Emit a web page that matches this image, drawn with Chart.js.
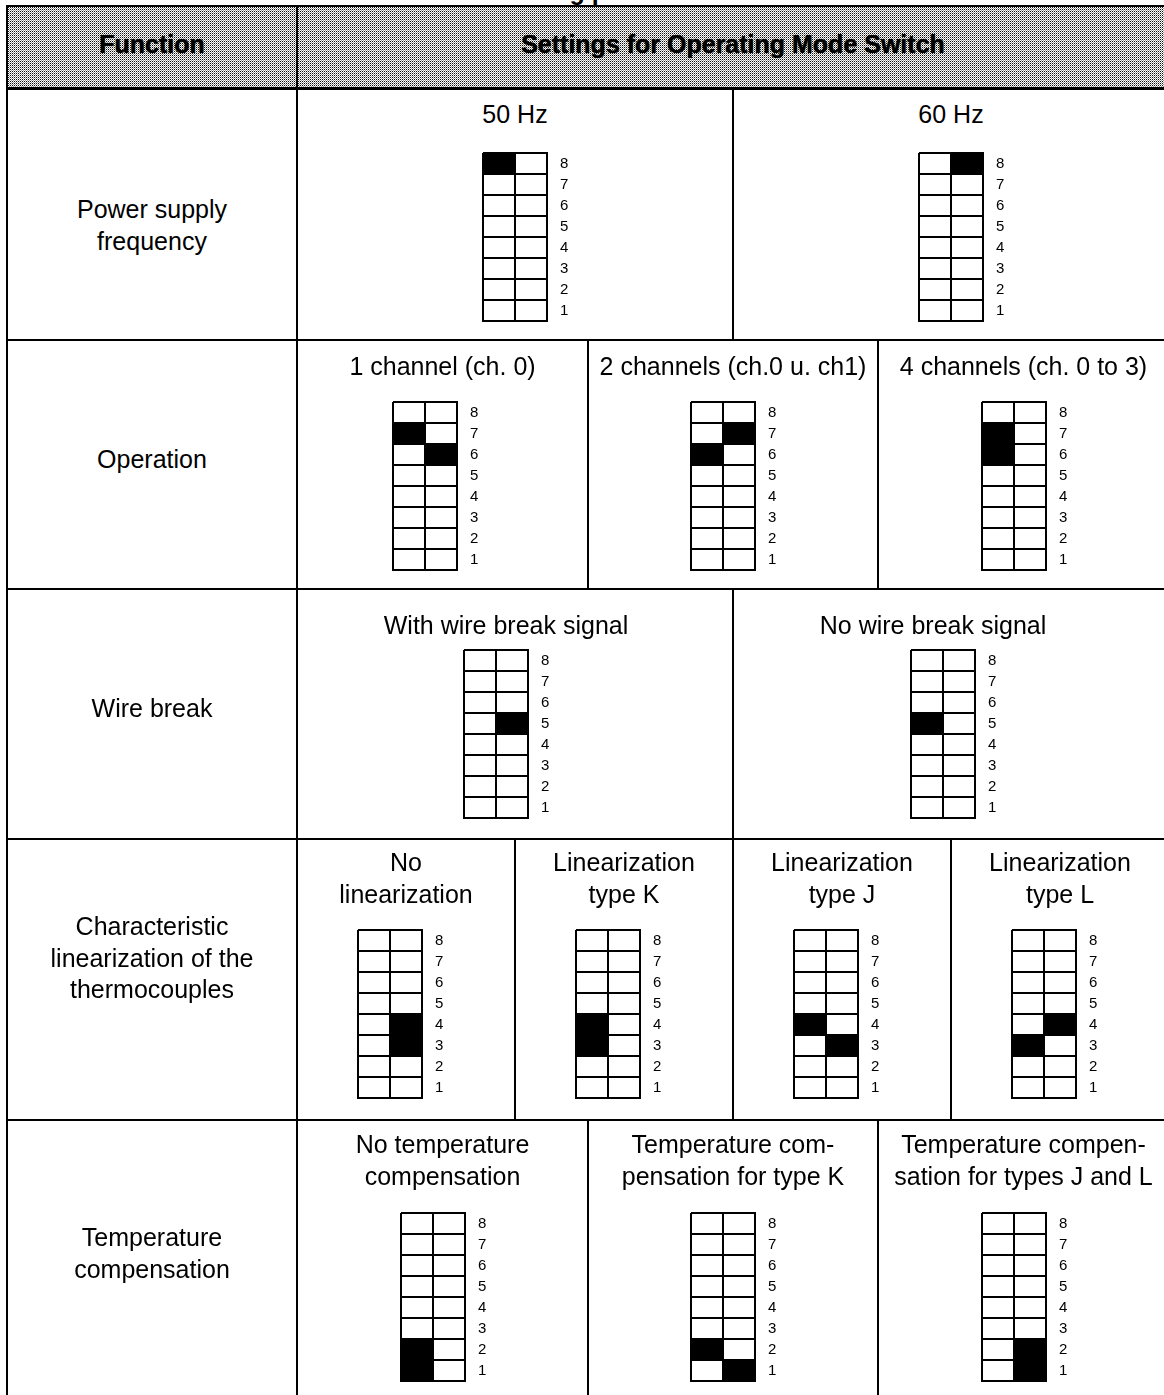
<!DOCTYPE html>
<html>
<head>
<meta charset="utf-8">
<script src="https://cdn.jsdelivr.net/npm/chart.js@4.4.0/dist/chart.umd.min.js"></script>
<style>
    body { margin: 0; width: 1164px; height: 1395px; overflow: hidden; background: #fff;
           font-family: "Liberation Sans", Arial, sans-serif; color: #000; position: relative; }
    .cell { position: absolute; border: 2px solid #000; box-sizing: border-box; }
    .txt { position: absolute; font-size: 25px; line-height: 31.5px; text-align: center; white-space: nowrap; }
    .hdr { position: absolute; font-size: 25px; font-weight: bold; text-align: center; white-space: nowrap;
           text-shadow: 0 0 1px #000; }
    .title { position: absolute; font-size: 25px; font-weight: bold; line-height: 25px; white-space: nowrap; }
    canvas { position: absolute; }
</style>
</head>
<body>
<div id="page"></div>
<script>
    // switch positions, top to bottom
    var positions = ['8', '7', '6', '5', '4', '3', '2', '1'];

    // lever side for each position: 0 = left, 1 = right, null = not marked
    var freq50Hz        = [0, null, null, null, null, null, null, null];
    var freq60Hz        = [1, null, null, null, null, null, null, null];
    var oneChannel      = [null, 0, 1, null, null, null, null, null];
    var twoChannels     = [null, 1, 0, null, null, null, null, null];
    var fourChannels    = [null, 0, 0, null, null, null, null, null];
    var withWireBreak   = [null, null, null, 1, null, null, null, null];
    var noWireBreak     = [null, null, null, 0, null, null, null, null];
    var noLinearization = [null, null, null, null, 1, 1, null, null];
    var linearTypeK     = [null, null, null, null, 0, 0, null, null];
    var linearTypeJ     = [null, null, null, null, 0, 1, null, null];
    var linearTypeL     = [null, null, null, null, 1, 0, null, null];
    var noTempComp      = [null, null, null, null, null, null, 0, 0];
    var tempCompK       = [null, null, null, null, null, null, 0, 1];
    var tempCompJL      = [null, null, null, null, null, null, 1, 1];

    var pageTitle = 'Setting possibilities';
    var headerFunction = 'Function';
    var headerSettings = 'Settings for Operating Mode Switch';

    var functionLabels = [
        ['Power supply', 'frequency'],
        ['Operation'],
        ['Wire break'],
        ['Characteristic', 'linearization of the', 'thermocouples'],
        ['Temperature', 'compensation']
    ];

    var settingTitles = [
        [['50 Hz'], ['60 Hz']],
        [['1 channel (ch. 0)'], ['2 channels (ch.0 u. ch1)'], ['4 channels (ch. 0 to 3)']],
        [['With wire break signal'], ['No wire break signal']],
        [['No', 'linearization'], ['Linearization', 'type K'], ['Linearization', 'type J'], ['Linearization', 'type L']],
        [['No temperature', 'compensation'], ['Temperature com-', 'pensation for type K'], ['Temperature compen-', 'sation for types J and L']]
    ];

    var settingStates = [
        [freq50Hz, freq60Hz],
        [oneChannel, twoChannels, fourChannels],
        [withWireBreak, noWireBreak],
        [noLinearization, linearTypeK, linearTypeJ, linearTypeL],
        [noTempComp, tempCompK, tempCompJL]
    ];

    // page layout (pixels)
    var tableLeft = 7, funcRight = 297, tableRight = 1169, headerTop = 6, headerBottom = 89;
    var rowTops = [89, 340, 589, 839, 1120, 1420];
    var funcTextTops = [194, 444, 693, 911, 1222];
    var titleTops = [99, 351, 610, 847, 1129];
    var titleShift = [[0, 0], [0, 0, 0], [-9, -18], [0, 0, 0, 0], [0, 0, 0]];
    var switchTops = [153, 402, 650, 930, 1213];
    var switchShift = [[0, 0], [-18, -10, -10], [-19, -8], [-16, -16, -16, -16], [-10, -10, -10]];
    var switchW = 64, switchH = 168;

    var page = document.getElementById('page');

    function box(x1, y1, x2, y2) {
        var d = document.createElement('div');
        d.className = 'cell';
        d.style.left = (x1 - 1) + 'px';
        d.style.top = (y1 - 1) + 'px';
        d.style.width = (x2 - x1 + 2) + 'px';
        d.style.height = (y2 - y1 + 2) + 'px';
        page.appendChild(d);
        return d;
    }

    function text(cls, lines, x1, x2, top) {
        var d = document.createElement('div');
        d.className = cls;
        d.style.left = x1 + 'px';
        d.style.width = (x2 - x1) + 'px';
        d.style.top = top + 'px';
        d.innerHTML = lines.join('<br>');
        page.appendChild(d);
        return d;
    }

    // caption above the table, cut off by the top edge as in the scan
    text('title', [pageTitle], 500, 800, -21);

    // dithered header shading
    var pat = document.createElement('canvas');
    pat.width = 2; pat.height = 2;
    var pc = pat.getContext('2d');
    pc.fillStyle = '#fff'; pc.fillRect(0, 0, 2, 2);
    pc.fillStyle = '#111'; pc.fillRect(0, 0, 1, 1);
    pc.fillStyle = '#9a9a9a'; pc.fillRect(1, 1, 1, 1);
    var patUrl = 'url(' + pat.toDataURL() + ')';

    var h1 = box(tableLeft, headerTop, funcRight, headerBottom);
    var h2 = box(funcRight, headerTop, tableRight, headerBottom);
    [h1, h2].forEach(function(h) {
        h.style.backgroundImage = patUrl;
        h.style.borderBottomWidth = '3px';
    });
    text('hdr', [headerFunction], tableLeft, funcRight, 30);
    text('hdr', [headerSettings], funcRight, tableRight, 30);

    function drawSwitch(states, left, top) {
        var canvas = document.createElement('canvas');
        canvas.width = 2 + switchW + 36;
        canvas.height = 30 + switchH + 30;
        page.appendChild(canvas);
        var chart = new Chart(canvas.getContext('2d'), {
            type: 'bar',
            data: {
                labels: positions,
                datasets: [{
                    data: states.map(function(s) { return s === null ? null : [s, s + 1]; }),
                    backgroundColor: '#000',
                    borderWidth: 0,
                    barPercentage: 1,
                    categoryPercentage: 1
                }]
            },
            options: {
                indexAxis: 'y',
                responsive: false,
                animation: false,
                devicePixelRatio: 1,
                layout: { padding: { top: 30, bottom: 30, left: 2, right: 0 } },
                plugins: { legend: { display: false }, tooltip: { enabled: false } },
                scales: {
                    x: {
                        type: 'linear', min: 0, max: 2,
                        ticks: { display: false, stepSize: 1 },
                        grid: { color: '#000', lineWidth: 2, drawTicks: false },
                        border: { color: '#000', width: 2 }
                    },
                    y: {
                        position: 'right',
                        grid: { color: '#000', lineWidth: 2, drawTicks: false, offset: true },
                        border: { color: '#000', width: 2 },
                        ticks: { color: '#000', padding: 13,
                                 font: { family: '"Liberation Sans", Arial, sans-serif', size: 15 } },
                        afterFit: function(scale) { scale.width = 36; }
                    }
                }
            }
        });
        canvas.style.left = (left - chart.chartArea.left) + 'px';
        canvas.style.top = (top - chart.chartArea.top) + 'px';
    }

    for (var r = 0; r < functionLabels.length; r++) {
        var y1 = rowTops[r], y2 = rowTops[r + 1];
        box(tableLeft, y1, funcRight, y2);
        text('txt', functionLabels[r], tableLeft, funcRight, funcTextTops[r]);

        var n = settingTitles[r].length;
        var colW = (tableRight - funcRight) / n;
        for (var c = 0; c < n; c++) {
            var x1 = Math.round(funcRight + c * colW), x2 = Math.round(funcRight + (c + 1) * colW);
            box(x1, y1, x2, y2);
            var dx = titleShift[r][c];
            text('txt', settingTitles[r][c], x1 + dx - 40, x2 + dx + 40, titleTops[r]);
            var centre = (x1 + x2) / 2 + switchShift[r][c];
            drawSwitch(settingStates[r][c], Math.round(centre - switchW / 2), switchTops[r]);
        }
    }
</script>
</body>
</html>
